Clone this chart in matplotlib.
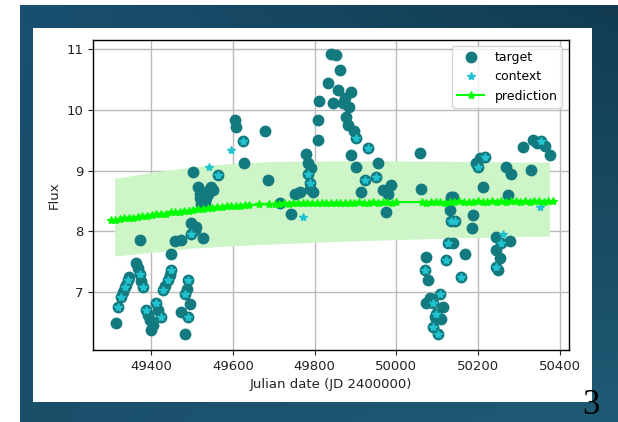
import numpy as np
import matplotlib
matplotlib.use("Agg")
import matplotlib.pyplot as plt
from matplotlib.colors import to_rgb
from matplotlib.patches import Rectangle

plt.rcParams['font.family'] = ['DejaVu Sans']

target_t = [49312.8, 49318.5, 49326.5, 49334.9, 49342.9, 49363, 49371.6, 49379.7, 49371.6,
            49387.8, 49396, 49400, 49412, 49424.5, 49428.6, 49441, 49449, 49449, 49457,
            49473.5, 49490, 49481.8, 49473.5, 49490, 49481.8, 49498, 49510, 49526.6,
            49498, 49502, 49514, 49518.5, 49538.8, 49547, 49530.7,
            49563, 49551, 49604, 49608, 49624.5, 49626, 49677.7, 49685.8, 49714,
            49742.8, 49751, 49763, 49779.5, 49783.7, 49783.7, 49787.8, 49796, 49808,
            49808, 49810.6, 49832.7, 49840.8, 49845,
            49853, 49861, 49857, 49869, 49889.7, 49877.5, 49881.6, 49902, 49930.6,
            49889.7, 49902, 49955, 49922.5, 49951, 49913.6, 49967, 49987.8, 49975.5,
            50059, 50061, 50134.6, 50130.7, 50134.6, 50126.5, 50122, 50073, 50069.6,
            50077.5, 50073, 50090, 50106, 50098, 50114, 50090, 50102,
            50138.7, 50143, 50138.7, 50167, 50159, 50188, 50184, 50212.6, 50200,
            50204, 50216.6, 50196, 50245, 50257, 50245, 50277.5, 50245, 50249,
            50269, 50281.5, 50273.5, 50330.6, 50310, 50334.6, 50355, 50375.6,
            49330, 49338, 49346, 49368, 49375, 49392, 49404, 49416, 49433, 49445,
            49486, 49494, 49506, 49520, 49534, 49542, 49522, 49788, 49790, 49873,
            49884, 49895, 49980, 50083, 50110, 50094, 50253, 50345, 50365]
target_y = [6.48, 6.75, 6.92, 7.08, 7.19, 7.47, 7.30, 7.08, 7.85,
            6.70, 6.53, 6.37, 6.81, 6.59, 7.03, 7.19, 7.36, 7.63, 7.83,
            7.85, 7.19, 6.97, 6.67, 6.59, 6.31, 7.96, 8.07, 7.88,
            8.14, 8.98, 8.73, 8.54, 8.62, 8.73, 8.46,
            8.93, 8.68, 9.83, 9.72, 9.48, 9.13, 9.66, 8.84, 8.46,
            8.29, 8.62, 8.65, 9.28, 9.12, 8.95, 8.79, 8.65, 9.83,
            9.50, 10.14, 10.44, 10.93, 10.11,
            10.91, 10.66, 10.33, 10.11, 10.30, 9.89, 9.75, 9.53, 9.37,
            9.26, 9.06, 9.13, 8.84, 8.90, 8.65, 8.68, 8.76, 8.32,
            9.29, 8.69, 8.57, 8.35, 8.16, 7.80, 7.52, 7.58, 7.36,
            7.19, 6.81, 6.81, 6.97, 6.64, 6.75, 6.42, 6.31,
            8.57, 8.16, 7.80, 7.63, 7.25, 8.27, 8.05, 8.73, 9.06,
            9.20, 9.23, 9.12, 7.91, 7.80, 7.69, 7.83, 7.41, 7.36,
            9.06, 8.95, 8.60, 9.01, 9.39, 9.50, 9.48, 9.26,
            7.00, 7.12, 7.25, 7.40, 7.18, 6.62, 6.45, 6.70, 7.10, 7.28,
            7.05, 6.80, 8.02, 8.62, 8.55, 8.68, 8.45, 8.70, 9.05, 10.20,
            10.05, 9.65, 8.62, 6.90, 6.55, 6.58, 7.55, 9.45, 9.40]

# context points
context_t = [49318.5, 49326.5, 49334.9, 49342.9, 49371.6, 49379.7, 49387.8, 49412, 49424.5,
             49428.6, 49441, 49449, 49481.8, 49490, 49490, 49498, 49540, 49563, 49596,
             49624.5, 49771, 49783.7, 49787.8, 49902, 49930.6, 49951, 49922.5, 50134.6,
             50126.5, 50122, 50069.6, 50090, 50098, 50106, 50090, 50102, 50143, 50159,
             50200, 50261, 50257, 50245, 50355, 50351, 50216.6]
context_y = [6.75, 6.92, 7.08, 7.19, 7.30, 7.08, 6.70, 6.81, 6.59,
             7.03, 7.19, 7.36, 6.97, 7.19, 6.59, 7.96, 9.06, 8.93, 9.34,
             9.48, 8.24, 8.95, 8.79, 9.53, 9.37, 8.90, 8.84, 8.16,
             7.80, 7.52, 7.36, 6.81, 6.64, 6.97, 6.42, 6.31, 8.16, 7.25,
             9.06, 7.96, 7.80, 7.41, 9.48, 8.40, 9.23]

# model prediction
pred_t = [49302, 49312, 49322, 49333, 49344, 49356, 49367, 49378, 49390, 49401, 49412,
          49424, 49436, 49447, 49458, 49470, 49481, 49492, 49503, 49515, 49526, 49538,
          49549, 49560, 49572, 49584, 49596, 49607, 49618, 49630, 49640,
          49664, 49688,
          49702, 49713, 49725, 49736, 49748, 49759, 49771, 49782, 49794, 49805, 49817,
          49828, 49840, 49851, 49863, 49874, 49886, 49897, 49909, 49920, 49932, 49943,
          49955, 49966, 49978, 49989, 49998,
          50062, 50073, 50085, 50096, 50108, 50119, 50131, 50142, 50154, 50165, 50177,
          50188, 50200, 50211, 50223, 50234, 50246, 50257, 50269, 50280, 50292, 50303,
          50315, 50326, 50338, 50349, 50361, 50372, 50384]
pred_y = [8.18, 8.19, 8.20, 8.21, 8.22, 8.22, 8.24, 8.25, 8.25, 8.27, 8.28,
          8.29, 8.29, 8.31, 8.31, 8.32, 8.33, 8.34, 8.35, 8.36, 8.37, 8.38,
          8.39, 8.40, 8.40, 8.41, 8.41, 8.42, 8.42, 8.43, 8.43,
          8.44, 8.44,
          8.45, 8.45, 8.46, 8.45, 8.46, 8.46, 8.46, 8.47, 8.46, 8.46, 8.47,
          8.46, 8.47, 8.47, 8.46, 8.47, 8.47, 8.47, 8.48, 8.47, 8.47, 8.48,
          8.47, 8.48, 8.48, 8.47, 8.48,
          8.48, 8.47, 8.48, 8.48, 8.48, 8.47, 8.48, 8.48, 8.49, 8.48, 8.48,
          8.48, 8.49, 8.48, 8.48, 8.49, 8.48, 8.49, 8.48, 8.49, 8.49, 8.48,
          8.49, 8.48, 8.49, 8.49, 8.48, 8.49, 8.49]

# uncertainty band
band_t = [49310, 49400, 49500, 49600, 49700, 49850, 50000, 50150, 50300, 50375]
band_lo = [7.59, 7.65, 7.72, 7.76, 7.79, 7.83, 7.86, 7.89, 7.91, 7.92]
band_hi = [8.87, 8.97, 9.06, 9.12, 9.15, 9.16, 9.16, 9.15, 9.14, 9.14]

W, H = 618, 422
fig = plt.figure(figsize=(W / 100, H / 100), dpi=100, facecolor='white')

# slide background
bg = fig.add_axes([0, 0, 1, 1])
bg.set_xlim(0, W)
bg.set_ylim(H, 0)
bg.axis('off')
tl, tr = np.array(to_rgb('#195070')), np.array(to_rgb('#123b50'))
bl, br = np.array(to_rgb('#1a4f6a')), np.array(to_rgb('#1f5a75'))
u = np.linspace(0, 1, 200)[None, :, None]
v = np.linspace(0, 1, 150)[:, None, None]
grad = (1 - v) * ((1 - u) * tl + u * tr) + v * ((1 - u) * bl + u * br)
bg.imshow(grad, extent=(20, W, H, 5), aspect='auto')
bg.add_patch(Rectangle((33, 28), 559, 374, facecolor='white', edgecolor='none'))
bg.text(591, 405, '3', fontsize=25, family=['Liberation Serif', 'DejaVu Serif'],
        ha='center', va='center', color='black')

# chart
ax = fig.add_axes([93 / W, 1 - 350 / H, (568.5 - 93) / W, (350 - 40) / H])
ax.plot(target_t, target_y, 'o', color='#137a7f', ms=7.5, label='target', zorder=3)
ax.plot(context_t, context_y, '*', color='#22c3d0', ms=6, label='context', zorder=4)
ax.plot(pred_t, pred_y, '-*', color='lime', ms=6, lw=1.5, label='prediction', zorder=5)
ax.fill_between(band_t, band_lo, band_hi, color='#cdf5c8', lw=0, zorder=1)

ax.set_xlim(49257, 50421.5)
ax.set_ylim(6.04, 11.153)
ax.set_xticks([49400, 49600, 49800, 50000, 50200, 50400])
ax.set_yticks([7, 8, 9, 10, 11])
ax.tick_params(labelsize=9.5, colors='#222222')
ax.grid(True, color='#bbbbbb', lw=1.0, zorder=0)
ax.set_axisbelow(True)
for s in ax.spines.values():
    s.set_linewidth(1.0)
ax.set_xlabel('Julian date (JD 2400000)', fontsize=9.5, color='#222222')
ax.set_ylabel('Flux', fontsize=9.5, color='#222222')
ax.legend(loc='upper right', fontsize=9, handlelength=2.2)

fig.savefig('out.png', dpi=100)
